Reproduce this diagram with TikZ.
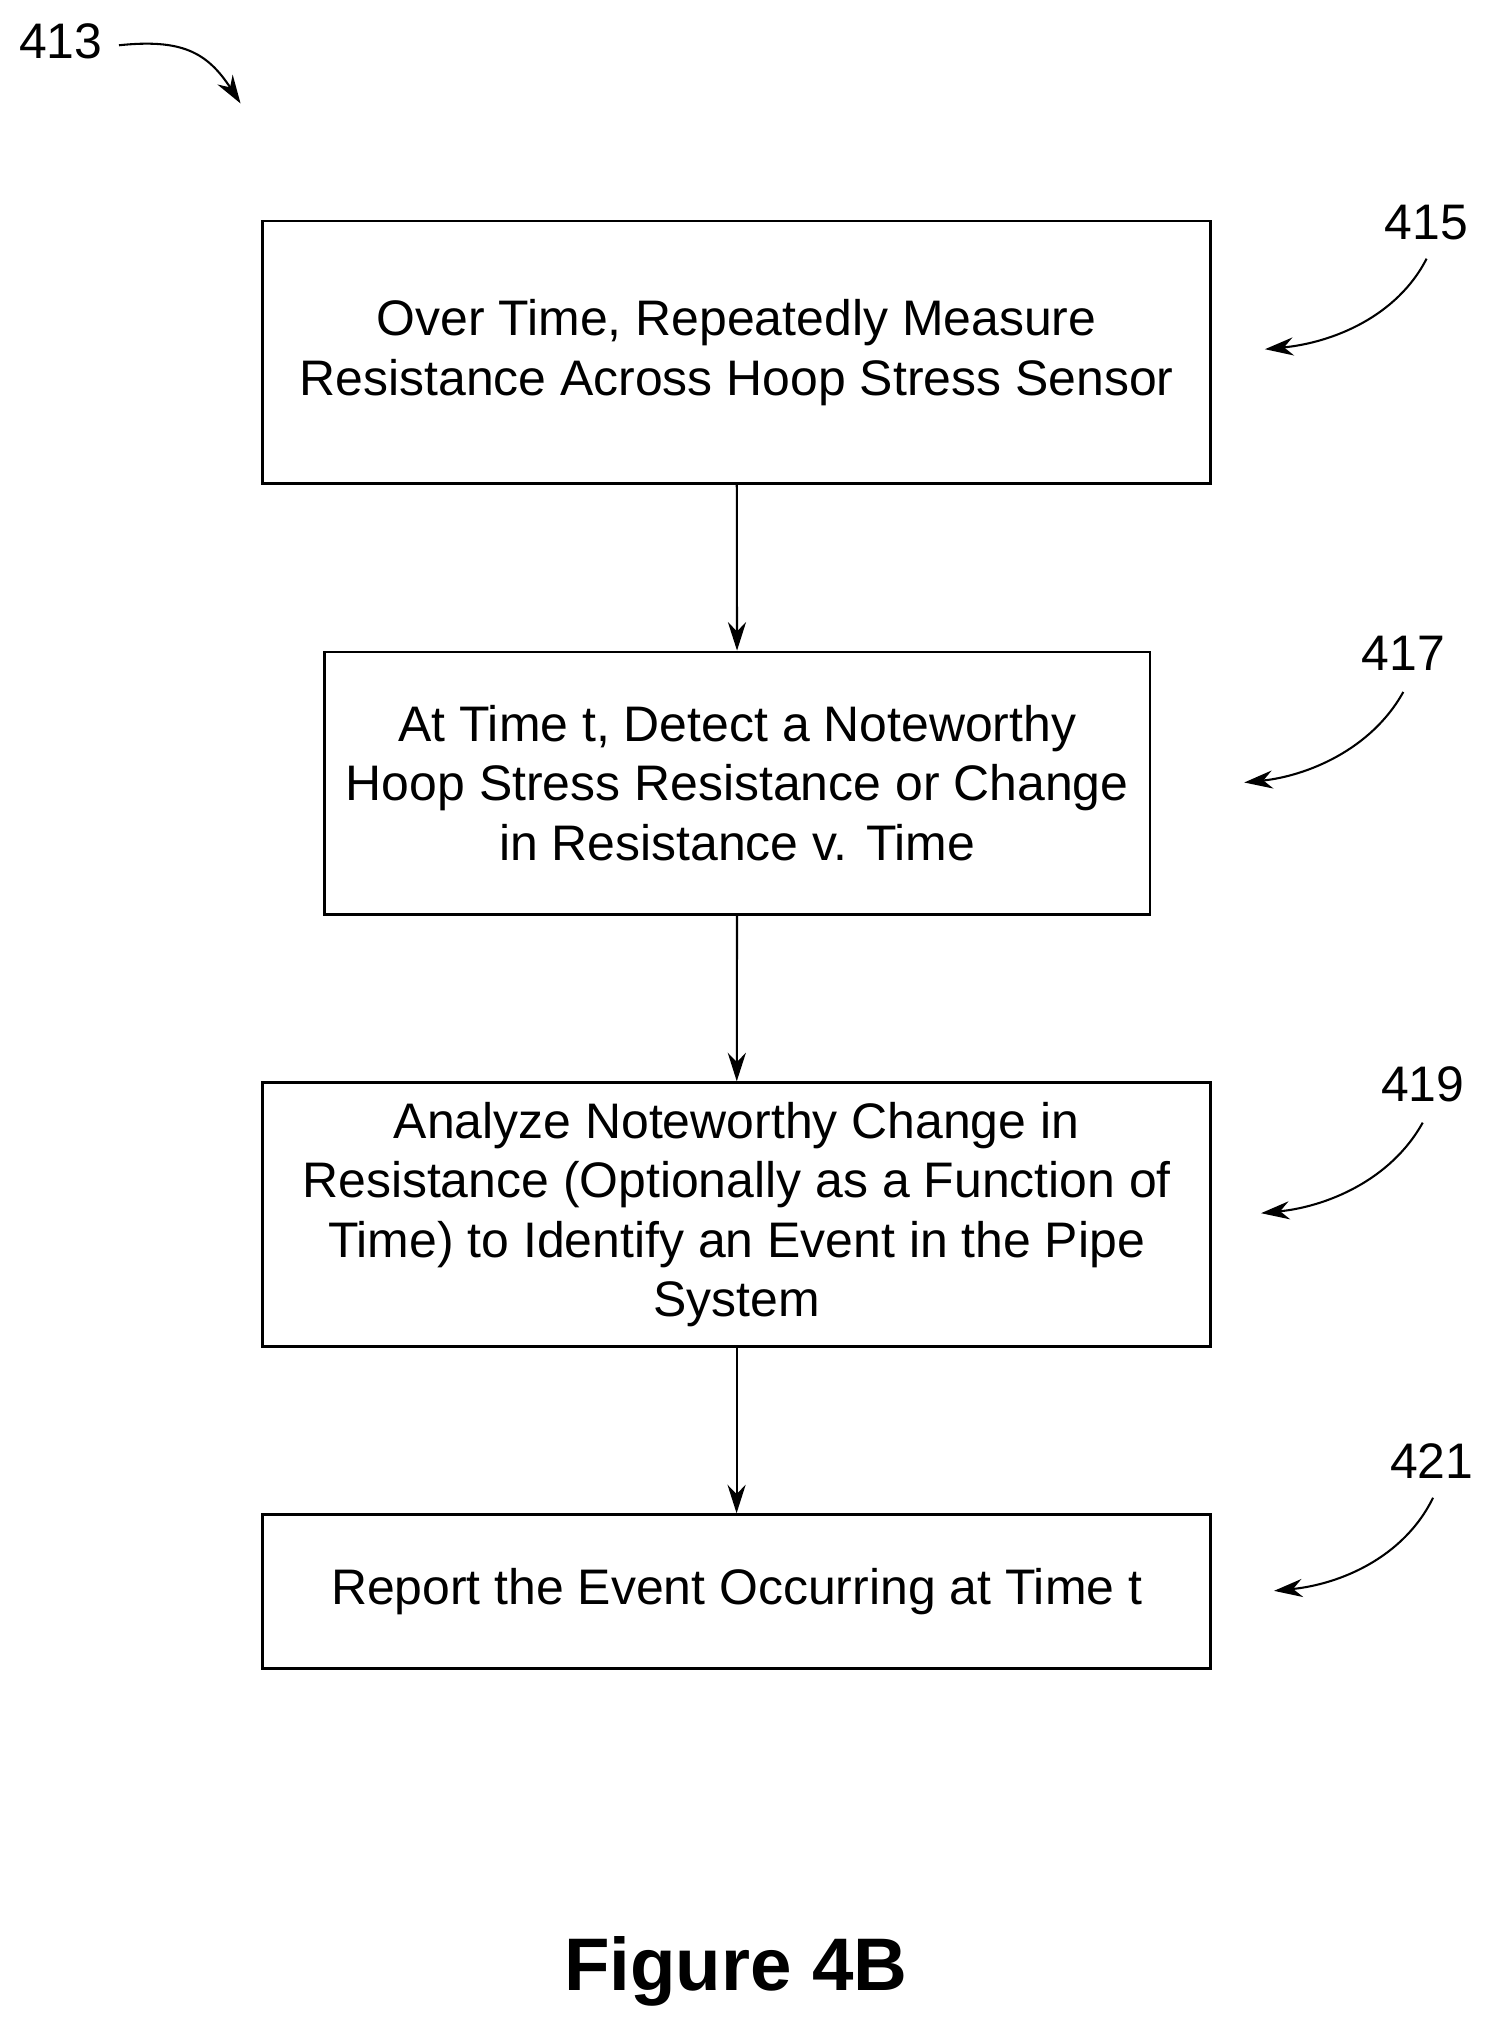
\documentclass[tikz,border=0pt]{standalone}
\usepackage{fontspec}
\setmainfont{Liberation Sans}
\usetikzlibrary{arrows.meta}
\begin{document}
\begin{tikzpicture}[x=0.5pt,y=-0.5pt,
  box/.style={draw,line width=1pt,align=center,font=\fontsize{19.3}{23}\selectfont,inner sep=0},
  lbl/.style={font=\fontsize{19.3}{22}\selectfont},
  arr/.style={-{Stealth[length=11pt,width=7pt]},line width=0.8pt}]
\useasboundingbox (0,0) rectangle (1159,1568);
\node[box,minimum width=366.5pt,minimum height=101.5pt] (b1) at (569.5,272.5) {Over Time, Repeatedly Measure\\Resistance Across Hoop Stress Sensor};
\node[box,minimum width=319pt,minimum height=101.5pt] (b2) at (570,605.5) {At Time t, Detect a Noteworthy\\Hoop Stress Resistance or Change\\in Resistance v. Time};
\node[box,minimum width=366.5pt,minimum height=102pt] (b3) at (569.5,939) {Analyze Noteworthy Change in\\Resistance (Optionally as a Function of\\Time) to Identify an Event in the Pipe\\System};
\node[box,minimum width=366.5pt,minimum height=59.5pt] (b4) at (569.5,1230.5) {Report the Event Occurring at Time t};
\draw[arr] (b1) -- (b2);
\draw[arr] (b2) -- (b3);
\draw[arr] (b3) -- (b4);
\node[lbl] (l413) at (47,32) {413};
\node[lbl] (l415) at (1103,172) {415};
\node[lbl] (l417) at (1085,505) {417};
\node[lbl] (l419) at (1100,838) {419};
\node[lbl] (l421) at (1107,1130) {421};
\coordinate (a413) at (186,80);
\coordinate (a415) at (978,270);
\coordinate (a417) at (962,605);
\coordinate (a419) at (975,938);
\coordinate (a421) at (985,1230);
\draw[arr] (92,35) .. controls (140,30) and (160,40) .. (a413);
\draw[arr] (1103,200) .. controls (1080,245) and (1030,265) .. (a415);
\draw[arr] (1085,535) .. controls (1060,580) and (1010,600) .. (a417);
\draw[arr] (1100,868) .. controls (1075,913) and (1025,933) .. (a419);
\draw[arr] (1108,1158) .. controls (1085,1205) and (1035,1225) .. (a421);
\node[font=\bfseries\fontsize{28.8}{32}\selectfont] (fig) at (569,1524) {Figure 4B};
\end{tikzpicture}
\end{document}
